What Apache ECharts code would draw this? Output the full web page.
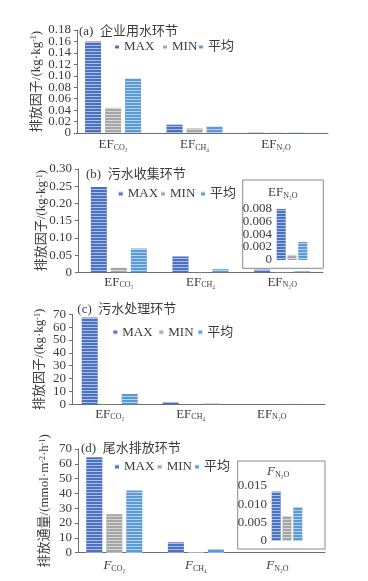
<!DOCTYPE html>
<html><head><meta charset="utf-8">
<script src="https://cdn.jsdelivr.net/npm/echarts@6/dist/echarts.min.js"></script>
<style>html,body{margin:0;padding:0;background:#fff}#c{width:368px;height:581px}</style>
</head><body><div id="c"></div>
<script>
// ---- data ----
const seriesNames = ['MAX', 'MIN', '平均'];
const catsEF = ['EF_CO₂', 'EF_CH₄', 'EF_N₂O'];
const catsF = ['F_CO₂', 'F_CH₄', 'F_N₂O'];
const aMax = [0.160, 0.0145, 0.0006];
const aMin = [0.044, 0.008, 0.0004];
const aAvg = [0.095, 0.011, 0.0005];
const bMax = [0.248, 0.046, 0.0079];
const bMin = [0.013, 0.0004, 0.0008];
const bAvg = [0.069, 0.009, 0.0028];
const cMax = [67.5, 1.8, 0.1];
const cMin = [0.2, 0.05, 0.02];
const cAvg = [8.0, 0.5, 0.3];
const dMax = [64.5, 7.0, 0.0135];
const dMin = [26.0, 0.4, 0.0068];
const dAvg = [42.0, 2.5, 0.0092];
// y-axis ranges [min, max] and tick labels (bottom to top)
const aRange = [0, 0.18];
const bRange = [0, 0.30];
const cRange = [0, 70];
const dRange = [0, 70];
const bInsetRange = [0, 0.008];
const dInsetRange = [0, 0.015];
const aTickLabels = ['0', '0.02', '0.04', '0.06', '0.08', '0.10', '0.12', '0.14', '0.16', '0.18'];
const bTickLabels = ['0', '0.05', '0.10', '0.15', '0.20', '0.25', '0.30'];
const cTickLabels = ['0', '10', '20', '30', '40', '50', '60', '70'];
const dTickLabels = ['0', '10', '20', '30', '40', '50', '60', '70'];
const bInsetTickLabels = ['0', '0.002', '0.004', '0.006', '0.008'];
const dInsetTickLabels = ['0', '0.005', '0.010', '0.015'];
const panelTitles = ['企业用水环节', '污水收集环节', '污水处理环节', '尾水排放环节'];

// ---- styling ----
const FONT = "'Liberation Serif', 'Noto Sans CJK SC', serif";
const TXT = '#3c3c3c';
const AX = '#6e6e6e';
const COLORS = ['#4a71bf', '#a6a6a6', '#5b9bd5'];
const decal = {symbol: 'rect', symbolSize: 1, dashArrayX: [1, 0], dashArrayY: [1, 2], color: 'rgba(255,255,255,0.55)', rotation: 0};

const grids = [], xAxes = [], yAxes = [], series = [], legends = [], titles = [], graphics = [];

function catLabel() {
  return v => { const p = v.split('_'); return '{m|' + p[0] + '}{s|' + p[1] + '}'; };
}

function addPanel(o) {
  // frame grid (axis lines, y tick labels, name)
  const gF = grids.length;
  grids.push({left: o.fL, top: o.top, width: o.fW, height: o.h});
  xAxes.push({gridIndex: gF, type: 'category', data: [''], axisLine: {show: true, lineStyle: {color: AX, width: 1}},
    axisTick: {show: false}, axisLabel: {show: false}});
  yAxes.push({gridIndex: gF, type: 'category', data: o.tickLabels, boundaryGap: false,
    axisLine: {show: true, lineStyle: {color: AX}}, axisTick: {show: true, interval: 0, length: 3, lineStyle: {color: AX}},
    splitLine: {show: false},
    axisLabel: {interval: 0, fontFamily: FONT, fontSize: 13, color: TXT, margin: 6},
    name: o.name, nameLocation: 'middle', nameRotate: 90, nameGap: o.nameGap, nameMoveOverlap: false,
    nameTextStyle: {rich: {t: {fontFamily: FONT, fontSize: 13, color: TXT}, p: {fontFamily: FONT, fontSize: 8, color: TXT, verticalAlign: 'top'}}}
  });
  // data grid
  const gD = grids.length;
  grids.push({left: o.dL, top: o.top, width: o.dW, height: o.h});
  xAxes.push({gridIndex: gD, type: 'category', data: o.cats, axisLine: {show: false}, axisTick: {show: false},
    axisLabel: {interval: 0, formatter: catLabel(), margin: o.labelMargin,
      rich: {m: {fontFamily: FONT, fontSize: 13, color: TXT, fontStyle: o.italic ? 'italic' : 'normal', lineHeight: 14},
             s: {fontFamily: FONT, fontSize: 8, color: TXT, verticalAlign: 'bottom', lineHeight: 9}}}});
  yAxes.push({gridIndex: gD, type: 'value', show: false, min: o.range[0], max: o.range[1], splitLine: {show: false}});
  const xi = xAxes.length - 1, yi = yAxes.length - 1;
  o.data.forEach((arr, k) => {
    series.push({type: 'bar', name: seriesNames[k], xAxisIndex: xi, yAxisIndex: yi, data: arr,
      barWidth: 16, barGap: '25%', itemStyle: {color: COLORS[k], decal: decal}, emphasis: {disabled: true}});
  });
  // legends
  o.legendX.forEach((x, k) => {
    legends.push({data: [seriesNames[k]], left: x - 9, top: o.legendY - 7, itemWidth: 4, itemHeight: 4, icon: 'rect',
      padding: 0, selectedMode: false, textStyle: {fontFamily: FONT, fontSize: 13, color: TXT}});
  });
  titles.push({text: '{p|(' + o.letter + ')}  {c|' + o.title + '}', left: o.titleX, top: o.titleY, padding: 0,
    textStyle: {fontFamily: FONT, fontSize: 13, fontWeight: 'normal', color: TXT,
      rich: {p: {fontFamily: FONT, fontSize: 13, color: TXT, fontWeight: 'normal'},
             c: {fontFamily: FONT, fontSize: 13, color: TXT, fontWeight: 'normal'}}}});
}

function addInset(o) {
  graphics.push({type: 'rect', z: -1, shape: {x: o.bx, y: o.by, width: o.bw, height: o.bh},
    style: {fill: '#fff', stroke: '#8a8a8a', lineWidth: 1}});
  // label axis
  const gL = grids.length;
  grids.push({left: o.left, top: o.top, width: o.width, height: o.h});
  xAxes.push({gridIndex: gL, type: 'category', data: [''], show: false});
  yAxes.push({gridIndex: gL, type: 'category', data: o.tickLabels, boundaryGap: false,
    axisLine: {show: false}, axisTick: {show: false}, splitLine: {show: false},
    axisLabel: {interval: 0, fontFamily: FONT, fontSize: 13, color: TXT, margin: 2}});
  // bars
  const g = grids.length;
  grids.push({left: o.left, top: o.top, width: o.width, height: o.h});
  xAxes.push({gridIndex: g, type: 'category', data: [''], axisLine: {show: false}, axisTick: {show: false}, axisLabel: {show: false}});
  yAxes.push({gridIndex: g, type: 'value', show: false, min: o.range[0], max: o.range[1], splitLine: {show: false}});
  const xi = xAxes.length - 1, yi = yAxes.length - 1;
  o.data.forEach((arr, k) => {
    series.push({type: 'bar', name: seriesNames[k], xAxisIndex: xi, yAxisIndex: yi, data: [arr[2]],
      barWidth: 9, barGap: '20%', itemStyle: {color: COLORS[k], decal: decal}, emphasis: {disabled: true}});
  });
  titles.push({text: '{m|' + o.tMain + '}{s|N₂O}', left: o.tx, top: o.ty, padding: 0,
    textStyle: {fontWeight: 'normal', rich: {m: {fontFamily: FONT, fontSize: 13, color: TXT, fontWeight: 'normal', fontStyle: o.italic ? 'italic' : 'normal', lineHeight: 14},
      s: {fontFamily: FONT, fontSize: 8, color: TXT, fontWeight: 'normal', verticalAlign: 'bottom', lineHeight: 9}}}});
}

const nameEF = '{t|排放因子/(kg·kg}{p|-1}{t|)}';
const nameF = '{t|排放通量/(mmol·m}{p|-2}{t|·h}{p|-1}{t|)}';

addPanel({letter: 'a', title: panelTitles[0], top: 30, h: 103, fL: 77, fW: 251, dL: 72.3, dW: 244.5,
  range: aRange, tickLabels: aTickLabels, name: nameEF, nameGap: 34, cats: catsEF, labelMargin: 5,
  data: [aMax, aMin, aAvg], legendX: [124, 172, 208], legendY: 47.5, titleX: 79, titleY: 25});
addPanel({letter: 'b', title: panelTitles[1], top: 169, h: 103.3, fL: 78, fW: 245, dL: 78, dW: 245,
  range: bRange, tickLabels: bTickLabels, name: nameEF, nameGap: 29.5, cats: catsEF, labelMargin: 3,
  data: [bMax, bMin, bAvg], legendX: [127.7, 170, 210], legendY: 194.3, titleX: 86, titleY: 168.5});
addPanel({letter: 'c', title: panelTitles[2], top: 314.3, h: 90, fL: 72, fW: 253, dL: 69.2, dW: 243,
  range: cRange, tickLabels: cTickLabels, name: nameEF, nameGap: 25.5, cats: catsEF, labelMargin: 3,
  data: [cMax, cMin, cAvg], legendX: [122.3, 168.3, 207.3], legendY: 332.7, titleX: 77.3, titleY: 303});
addPanel({letter: 'd', title: panelTitles[3], top: 449, h: 103.7, fL: 78, fW: 247, dL: 73.5, dW: 244.8,
  range: dRange, tickLabels: dTickLabels, name: nameF, nameGap: 26.5, cats: catsF, labelMargin: 6, italic: true,
  data: [dMax, dMin, dAvg], legendX: [124, 166.7, 204], legendY: 467.3, titleX: 81, titleY: 442.5});

addInset({bx: 242.7, by: 180, bw: 80.6, bh: 88.3, left: 274, top: 208.3, width: 36, h: 51.7,
  range: bInsetRange, tickLabels: bInsetTickLabels, data: [bMax, bMin, bAvg], tMain: 'EF', tx: 268, ty: 186});
addInset({bx: 237.7, by: 461, bw: 87.3, bh: 88, left: 269, top: 486, width: 36, h: 55,
  range: dInsetRange, tickLabels: dInsetTickLabels, data: [dMax, dMin, dAvg], tMain: 'F', italic: true, tx: 267, ty: 465});

const chart = echarts.init(document.getElementById('c'), null, {renderer: 'canvas'});
chart.setOption({
  animation: false,
  backgroundColor: '#fff',
  title: titles,
  legend: legends,
  grid: grids,
  xAxis: xAxes,
  yAxis: yAxes,
  series: series,
  graphic: graphics
});
</script></body></html>
